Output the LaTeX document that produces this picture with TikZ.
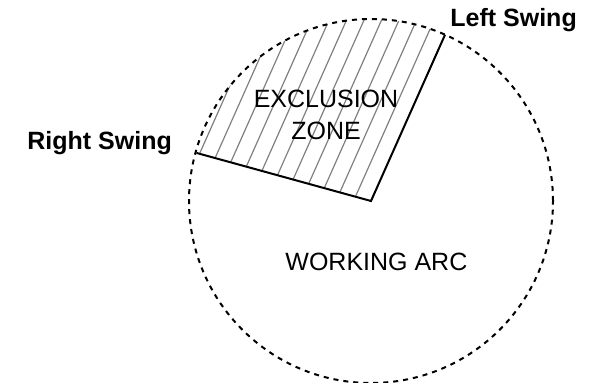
\documentclass[tikz,border=0pt]{standalone}
\usepackage{fontspec}
\setmainfont{Liberation Sans}
\usepackage{tikz}
\usetikzlibrary{positioning}
\tikzset{
    swingline/.style={
        line width=1pt,
        black
    },
    % hatching of the exclusion zone
    hatchline/.style={
        line width=0.6pt,
        gray
    },
    arcline/.style={
        line width=1pt,
        black,
        dash pattern=on 2.5pt off 2.5pt
    },
    zonelabel/.style={
        font=\fontsize{12.5}{16}\selectfont,
        inner sep=0pt
    }
}
\begin{document}
\begin{tikzpicture}[x=0.5pt,y=0.5pt]
    \useasboundingbox (-371,-182) rectangle (221,201);
    \path
    (0,0) coordinate (pivot)
    (66:182) coordinate (lswing) (164.6:181) coordinate (rswing);
    \begin{scope}
        \clip (pivot) -- (lswing) arc (66:164.6:182) -- cycle;
        \foreach \k in {1,...,12}
            \draw[hatchline] (-\k*17.5,0) ++(246:60) -- ++(66:420);
    \end{scope}
    \draw[swingline] (lswing) -- (pivot) -- (rswing);
    \draw[arcline] (pivot) circle (182);

    \node[zonelabel,align=center] (excl) at (-45,86) {EXCLUSION\\ZONE};
    \node[zonelabel,anchor=base west] (work) at (-86,-70) {WORKING ARC};
    \node[zonelabel,anchor=base west,font=\fontsize{12.5}{16}\selectfont\bfseries] (lab1) at (79,174) {Left Swing};
    \node[zonelabel,anchor=base west,font=\fontsize{12.5}{16}\selectfont\bfseries] (lab2) at (-344,51) {Right Swing};
\end{tikzpicture}
\end{document}
